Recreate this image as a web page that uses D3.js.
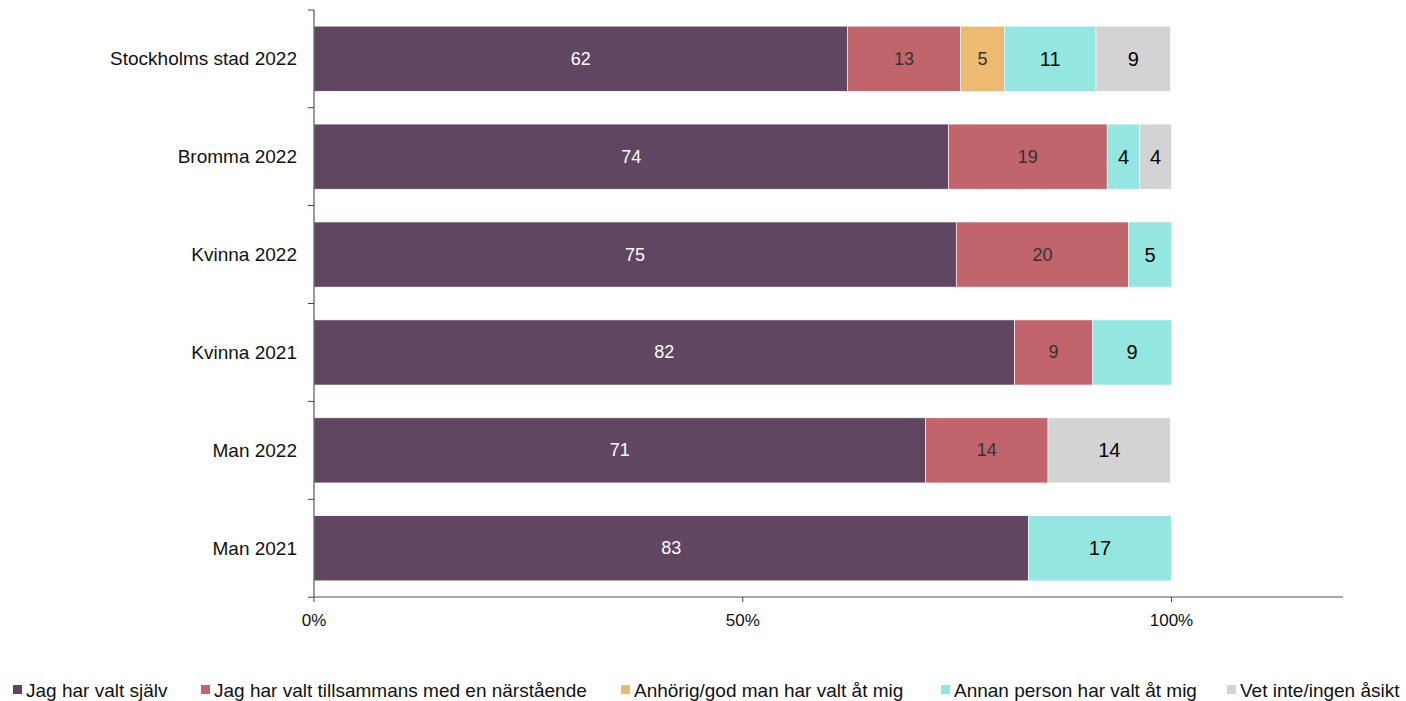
<!DOCTYPE html>
<html><head><meta charset="utf-8">
<script src="https://cdn.jsdelivr.net/npm/d3@7"></script>
<style>body{margin:0;background:#fff}svg{display:block;font-family:"Liberation Sans",Arial,sans-serif}</style>
</head><body><svg id="c" width="1406" height="701"></svg>
<script>
const categories = ["Stockholms stad 2022","Bromma 2022","Kvinna 2022","Kvinna 2021","Man 2022","Man 2021"];
const seriesNames = ["Jag har valt själv","Jag har valt tillsammans med en närstående","Anhörig/god man har valt åt mig","Annan person har valt åt mig","Vet inte/ingen åsikt"];
const valtSjalv      = [62.2, 74.0, 74.9, 81.7, 71.3, 83.3];
const tillsammans    = [13.2, 18.5, 20.1, 9.1, 14.3, 0];
const anhorig        = [5.1, 0, 0, 0, 0, 0];
const annanPerson    = [10.7, 3.8, 5.0, 9.2, 0, 16.7];
const vetInte        = [8.7, 3.7, 0, 0, 14.3, 0];
const xTicks = [0, 50, 100];
const colors = ["#614662","#c1646c","#ecba73","#94e6e0","#d3d3d3"];
const labelColors = ["#ffffff","#333333","#333333","#000000","#000000"];
const labelSizes = [18,18,18,20,20];

const seriesVals = [valtSjalv, tillsammans, anhorig, annanPerson, vetInte];
const rows = categories.map((c,i)=>{const o={cat:c}; seriesNames.forEach((s,j)=>o[s]=seriesVals[j][i]); return o;});
const stacked = d3.stack().keys(seriesNames)(rows);

const svg = d3.select("#c");
const x = d3.scaleLinear().domain([0,120]).range([314,1343]);
const y = d3.scaleBand().domain(categories).range([10,597]).paddingInner(0.335).paddingOuter(0.165);

// bars
const g = svg.append("g");
stacked.forEach((s,j)=>{
  const gg = g.append("g");
  gg.selectAll("rect").data(s).join("rect")
    .attr("x",d=>x(d[0])).attr("width",d=>x(d[1])-x(d[0]))
    .attr("y",d=>y(d.data.cat)).attr("height",y.bandwidth())
    .attr("fill",colors[j]).attr("stroke","#fff").attr("stroke-width",0.6);
  gg.selectAll("text").data(s.filter(d=>d[1]-d[0]>0)).join("text")
    .attr("x",d=>(x(d[0])+x(d[1]))/2).attr("y",d=>y(d.data.cat)+y.bandwidth()/2)
    .attr("text-anchor","middle").attr("dominant-baseline","central")
    .attr("fill",labelColors[j]).style("font-size",labelSizes[j]+"px")
    .text(d=>Math.round(d[1]-d[0]));
});

// y axis
const yAxis = svg.append("g").attr("transform","translate(314,0)");
yAxis.append("line").attr("x1",0).attr("x2",0).attr("y1",10).attr("y2",597).attr("stroke","#555").attr("stroke-width",1.2);
const yTickPos = [10].concat(categories.map(c=>y(c)+y.bandwidth()+ y.step()*y.paddingInner()/2));
yTickPos.forEach(p=>yAxis.append("line").attr("x1",-6).attr("x2",0).attr("y1",p).attr("y2",p).attr("stroke","#444"));
categories.forEach(c=>yAxis.append("text").attr("x",-17).attr("y",y(c)+y.bandwidth()/2)
  .attr("text-anchor","end").attr("dominant-baseline","central").style("font-size","19px").attr("fill","#111").text(c));

// x axis
const xAxis = svg.append("g").attr("transform","translate(0,597)");
xAxis.append("line").attr("x1",x(0)).attr("x2",x(120)).attr("stroke","#555").attr("stroke-width",1.2);
xTicks.forEach(t=>{
  xAxis.append("line").attr("x1",x(t)).attr("x2",x(t)).attr("y1",0).attr("y2",5).attr("stroke","#444");
  xAxis.append("text").attr("x",x(t)).attr("y",23).attr("text-anchor","middle").attr("dominant-baseline","central")
    .style("font-size","17px").attr("fill","#111").text(t+"%");
});

// legend
const legendX = [13, 201, 621, 941, 1227];
const leg = svg.append("g");
seriesNames.forEach((s,j)=>{
  leg.append("rect").attr("x",legendX[j]).attr("y",685).attr("width",9).attr("height",9).attr("fill",colors[j]);
  leg.append("text").attr("x",legendX[j]+13).attr("y",690).attr("dominant-baseline","central")
    .style("font-size","19px").attr("fill","#111").text(s);
});
</script></body></html>
